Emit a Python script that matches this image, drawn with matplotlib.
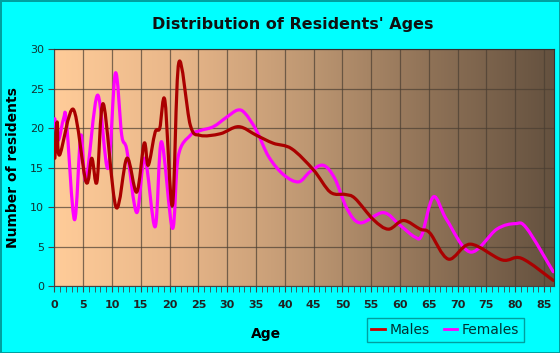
import numpy as np
import matplotlib.pyplot as plt
from matplotlib.path import Path
from matplotlib.patches import PathPatch
from matplotlib.lines import Line2D
from matplotlib.colors import LinearSegmentedColormap

# values (age, number of residents)
male_age = [0.1, 0.5, 0.9, 3.3, 5.5, 6.5, 7.4, 8.5, 10.7, 12.6, 14.3, 15.6, 16.3,
            17.5, 18.3, 19.2, 20.5, 21.6, 23.6, 25.3, 28.8, 32.0, 35.1, 38.0, 41.2,
            45.0, 47.9, 50.5, 52.2, 55.4, 58.0, 60.6, 63.5, 65.2, 68.4, 72.2, 77.7,
            81.1, 86.6]
male_count = [16.2, 20.8, 16.6, 22.4, 13.2, 16.2, 13.2, 23.1, 10.0, 16.2, 11.9, 18.1, 15.3,
              19.5, 20.0, 23.5, 10.2, 28.3, 20.4, 19.1, 19.3, 20.2, 19.1, 18.1, 17.4,
              14.7, 11.9, 11.6, 11.1, 8.4, 7.2, 8.3, 7.2, 6.7, 3.4, 5.3, 3.3,
              3.5, 0.7]

female_age = [0.1, 0.7, 1.6, 2.1, 3.5, 4.6, 5.5, 7.5, 9.3, 10.6, 11.7, 12.6, 14.3,
              15.7, 17.5, 18.6, 20.5, 21.5, 23.6, 25.3, 27.6, 29.9, 31.8, 33.1, 35.1,
              37.2, 39.8, 42.4, 44.4, 46.7, 48.7, 50.8, 53.1, 57.1, 60.0, 62.6, 63.8,
              65.8, 68.1, 72.2, 76.8, 80.0, 82.0, 86.6]
female_count = [21.2, 18.5, 21.2, 20.9, 8.4, 19.1, 13.4, 24.2, 14.9, 27.0, 19.1, 17.2, 9.3,
                16.2, 7.5, 18.3, 7.3, 16.4, 19.1, 19.7, 20.2, 21.4, 22.3, 21.9, 19.7,
                16.4, 14.1, 13.2, 14.5, 15.3, 13.6, 9.8, 8.0, 9.3, 7.7, 6.2, 6.5,
                11.3, 8.4, 4.3, 7.2, 7.9, 7.3, 1.8]

x_ticks = list(range(0, 90, 5))
y_ticks = [0, 5, 10, 15, 20, 25, 30]


def smooth_path(xs, ys):
    """Catmull-Rom curve through the points as cubic Bezier segments."""
    pts = np.column_stack([xs, ys])
    verts = [pts[0]]
    codes = [Path.MOVETO]
    n = len(pts)
    for i in range(n - 1):
        p0 = pts[max(i - 1, 0)]
        p1 = pts[i]
        p2 = pts[i + 1]
        p3 = pts[min(i + 2, n - 1)]
        c1 = p1 + (p2 - p0) / 6.0
        c2 = p2 - (p3 - p1) / 6.0
        verts += [c1, c2, p2]
        codes += [Path.CURVE4] * 3
    return Path(verts, codes)


fig = plt.figure(figsize=(5.6, 3.53), dpi=100, facecolor="#00FFFF",
                 edgecolor="#00A0A0", linewidth=2)
ax = fig.add_axes([0.097, 0.19, 0.893, 0.67])

# horizontal gradient background of the plot area
cmap = LinearSegmentedColormap.from_list(
    "bg", ["#FFCC99", "#E8B689", "#BF9873", "#8F7257", "#64513F"])
ax.imshow(np.linspace(0, 1, 256).reshape(1, -1), cmap=cmap, aspect="auto",
          extent=[0, 86.8, 0, 30], zorder=0)

ax.set_xlim(0, 86.8)
ax.set_ylim(0, 30)

ax.add_patch(PathPatch(smooth_path(female_age, female_count), facecolor="none",
                       edgecolor="#FF00FF", linewidth=2.3, capstyle="round",
                       joinstyle="round", zorder=3))
ax.add_patch(PathPatch(smooth_path(male_age, male_count), facecolor="none",
                       edgecolor="#AA0000", linewidth=2.3, capstyle="round",
                       joinstyle="round", zorder=4))

ax.set_xticks(x_ticks)
ax.set_xticks(range(0, 87), minor=True)
ax.set_yticks(y_ticks)
ax.grid(True, which="major", color="#4A3E32", alpha=0.7, linewidth=0.9)
for gl in ax.get_xgridlines() + ax.get_ygridlines():
    gl.set_zorder(1)

ax.tick_params(axis="x", which="both", direction="out", length=4, color="#444444",
               labelsize=8, pad=6)
ax.tick_params(axis="y", which="major", direction="out", length=4, color="#444444",
               labelsize=8, labelcolor="#113333")
for lab in ax.get_xticklabels():
    lab.set_fontweight("bold")
    lab.set_color("#222222")

for side in ["left", "bottom"]:
    ax.spines[side].set_color("#444444")
ax.spines["top"].set_color("#333333")
ax.spines["right"].set_color("#333333")

ax.set_xlabel("Age", fontsize=10, fontweight="bold")
ax.xaxis.set_label_coords(0.424, -0.175)
ax.set_ylabel("Number of residents", fontsize=10, fontweight="bold", labelpad=7)
fig.text(0.522, 0.93, "Distribution of Residents' Ages", fontsize=11.5,
         fontweight="bold", ha="center", va="center", color="#111111")

handles = [Line2D([], [], color="#CC0000", linewidth=2),
           Line2D([], [], color="#FF00FF", linewidth=2)]
leg = fig.legend(handles, ["Males", "Females"], loc="center",
                 bbox_to_anchor=(0.795, 0.066), ncol=2, frameon=True, fancybox=False,
                 fontsize=10, handlelength=1.0, handletextpad=0.3, columnspacing=1.0,
                 borderpad=0.35)
leg.get_frame().set_facecolor("#00FFFF")
leg.get_frame().set_edgecolor("#008888")
for t in leg.get_texts():
    t.set_color("#003333")

fig.savefig("out.png", dpi=100, facecolor=fig.get_facecolor(),
            edgecolor=fig.get_edgecolor())
